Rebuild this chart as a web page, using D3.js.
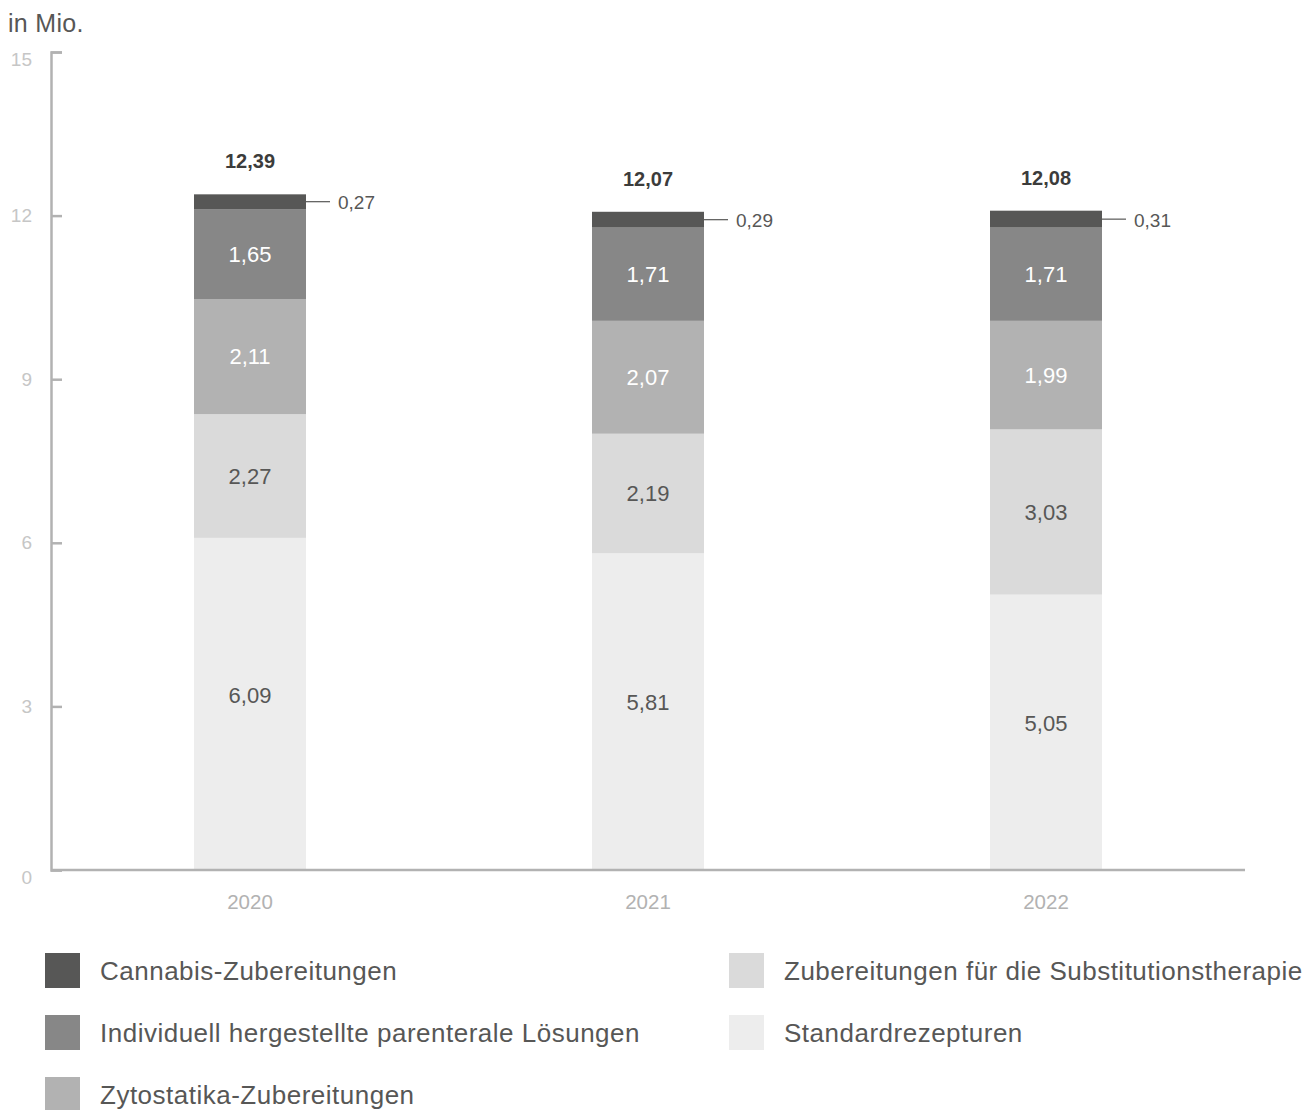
<!DOCTYPE html>
<html>
<head>
<meta charset="utf-8">
<script src="https://cdn.jsdelivr.net/npm/d3@7"></script>
<style>
  body { margin: 0; background: #fff; }
  text { font-family: "Helvetica Neue", "Liberation Sans", Arial, sans-serif; }
</style>
</head>
<body>
<div id="chart"></div>
<script>
// data
let years = ['2020', '2021', '2022']
let seriesNames = [
    'Standardrezepturen',
    'Zubereitungen für die Substitutionstherapie',
    'Zytostatika-Zubereitungen',
    'Individuell hergestellte parenterale Lösungen',
    'Cannabis-Zubereitungen'
]
let standard = [6.09, 5.81, 5.05]
let substitution = [2.27, 2.19, 3.03]
let zytostatika = [2.11, 2.07, 1.99]
let parenteral = [1.65, 1.71, 1.71]
let cannabis = [0.27, 0.29, 0.31]
let totals = [12.39, 12.07, 12.08]
let yTicks = [0, 3, 6, 9, 12, 15]

let colors = ['#ededed', '#dadada', '#b2b2b2', '#878787', '#575756']
let labelColors = ['#575756', '#575756', '#ffffff', '#ffffff', null]

let svgWidth = 1308
let svgHeight = 1110
let padding = { left: 51, right: 63, top: 52, bottom: 240 }

let svg = d3.select('#chart').append('svg')
    .attr('width', svgWidth)
    .attr('height', svgHeight)

let table = years.map((y, i) => ({
    year: y,
    'Standardrezepturen': standard[i],
    'Zubereitungen für die Substitutionstherapie': substitution[i],
    'Zytostatika-Zubereitungen': zytostatika[i],
    'Individuell hergestellte parenterale Lösungen': parenteral[i],
    'Cannabis-Zubereitungen': cannabis[i],
    total: totals[i]
}))
let stacked = d3.stack().keys(seriesNames)(table)

let x = d3.scaleBand()
    .domain(years)
    .range([padding.left, svgWidth - padding.right])
    .paddingInner(0.7186)
    .paddingOuter(0.3593)

let y = d3.scaleLinear()
    .domain([0, 15])
    .range([svgHeight - padding.bottom, padding.top])

let fmt = v => d3.format('.2f')(v).replace('.', ',')

// unit label
svg.append('text')
    .attr('x', 8)
    .attr('y', 32)
    .attr('font-size', 25)
    .attr('letter-spacing', 0.3)
    .attr('fill', '#575756')
    .text('in Mio.')

// bars
let groups = svg.append('g')
    .selectAll('g')
    .data(stacked)
    .enter()
    .append('g')
    .attr('fill', (d, i) => colors[i])

groups.selectAll('rect')
    .data(d => d)
    .enter()
    .append('rect')
    .attr('x', d => x(d.data.year))
    .attr('y', d => y(d[1]))
    .attr('width', x.bandwidth())
    .attr('height', d => y(d[0]) - y(d[1]))

// value labels inside bars
stacked.forEach((s, si) => {
    if (labelColors[si] == null) return
    svg.append('g')
        .selectAll('text')
        .data(s)
        .enter()
        .append('text')
        .attr('x', d => x(d.data.year) + x.bandwidth() / 2)
        .attr('y', d => (y(d[0]) + y(d[1])) / 2 - (si == 0 ? 9 : 0))
        .attr('dy', '0.35em')
        .attr('text-anchor', 'middle')
        .attr('font-size', 22)
        .attr('fill', labelColors[si])
        .text(d => fmt(d[1] - d[0]))
})

// cannabis leader lines
let topSeries = stacked[stacked.length - 1]
svg.append('g')
    .selectAll('line')
    .data(topSeries)
    .enter()
    .append('line')
    .attr('x1', d => x(d.data.year) + x.bandwidth())
    .attr('x2', d => x(d.data.year) + x.bandwidth() + 24)
    .attr('y1', d => (y(d[0]) + y(d[1])) / 2)
    .attr('y2', d => (y(d[0]) + y(d[1])) / 2)
    .attr('stroke', '#575756')
    .attr('stroke-width', 1.2)

svg.append('g')
    .selectAll('text')
    .data(topSeries)
    .enter()
    .append('text')
    .attr('x', d => x(d.data.year) + x.bandwidth() + 32)
    .attr('y', d => (y(d[0]) + y(d[1])) / 2 + 1)
    .attr('dy', '0.35em')
    .attr('font-size', 19)
    .attr('fill', '#575756')
    .text(d => fmt(d[1] - d[0]))

// totals
svg.append('g')
    .selectAll('text')
    .data(table)
    .enter()
    .append('text')
    .attr('x', d => x(d.year) + x.bandwidth() / 2)
    .attr('y', (d, i) => y(d3.sum(seriesNames, k => d[k])) - 33)
    .attr('dy', '0.35em')
    .attr('text-anchor', 'middle')
    .attr('font-size', 20)
    .attr('font-weight', 'bold')
    .attr('fill', '#3c3c3b')
    .text(d => fmt(d.total))

// axes
let axis_y = d3.axisLeft(y)
    .tickValues(yTicks)
    .tickSize(-11)
    .tickSizeOuter(-11)
    .tickPadding(19)
    .tickFormat(d => d)

let gy = svg.append('g')
    .attr('transform', `translate(${padding.left}, 0)`)
    .call(axis_y)
gy.selectAll('path, line').attr('stroke', '#b2b2b2').attr('stroke-width', 2.5)
gy.selectAll('text')
    .attr('font-size', 19)
    .attr('fill', '#c6c6c6')
    .attr('dy', (d, i) => (d == 0 || d == 15) ? '0.7em' : '0.32em')

let axis_x = d3.axisBottom(x)
    .tickSize(0)
    .tickSizeOuter(0)
    .tickPadding(24)

let gx = svg.append('g')
    .attr('transform', `translate(0, ${svgHeight - padding.bottom})`)
    .call(axis_x)
gx.select('path')
    .attr('d', `M${padding.left},0H${svgWidth - padding.right}`)
    .attr('stroke', '#b2b2b2')
    .attr('stroke-width', 2.5)
gx.selectAll('text')
    .attr('font-size', 20.5)
    .attr('fill', '#b2b2b2')

// legend
let legendOrder = [4, 3, 2, 1, 0]
let legend = svg.append('g')
    .selectAll('g')
    .data(legendOrder)
    .enter()
    .append('g')
    .attr('transform', (d, i) => {
        let col = i < 3 ? 0 : 1
        let row = i < 3 ? i : i - 3
        return `translate(${col == 0 ? 45 : 729}, ${953 + row * 62})`
    })

legend.append('rect')
    .attr('width', 35)
    .attr('height', 35)
    .attr('fill', d => colors[d])

legend.append('text')
    .attr('x', 55)
    .attr('y', 18)
    .attr('dy', '0.35em')
    .attr('font-size', 26)
    .attr('letter-spacing', 0.5)
    .attr('fill', '#575756')
    .text(d => seriesNames[d])
</script>
</body>
</html>
